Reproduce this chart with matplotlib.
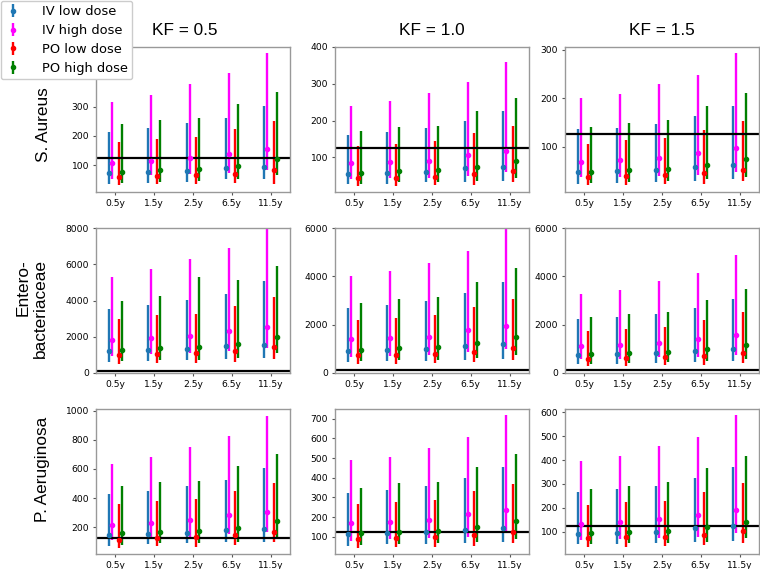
import numpy as np
import matplotlib.pyplot as plt

times = ["0.5y", "1.5y", "2.5y", "6.5y", "11.5y"]
series = ["IV low dose", "IV high dose", "PO low dose", "PO high dose"]
colors = ["#1f77b4", "magenta", "red", "green"]
kf_titles = ["KF = 0.5", "KF = 1.0", "KF = 1.5"]
bugs = ["S. Aureus", "Entero-\nbacteriaceae", "P. Aeruginosa"]
breakpoint = 125

# each list: [IV low, IV high, PO low, PO high] x times
# ---- S. Aureus ----
sa_k05_mid = [[73, 76, 81, 91, 94], [108, 115, 124, 139, 154], [58, 63, 66, 71, 85], [77, 85, 86, 97, 121]]
sa_k05_lo = [[37, 40, 42, 51, 51], [54, 66, 69, 74, 83], [31, 34, 35, 38, 37], [39, 43, 46, 51, 66]]
sa_k05_hi = [[212, 226, 245, 263, 303], [317, 342, 377, 416, 483], [180, 191, 195, 224, 251], [240, 256, 260, 308, 352]]

sa_k10_mid = [[56, 58, 60, 70, 73], [84, 87, 91, 106, 117], [44, 45, 48, 55, 63], [57, 63, 65, 73, 89]]
sa_k10_lo = [[27, 29, 32, 34, 36], [41, 44, 45, 50, 59], [23, 23, 25, 25, 32], [29, 32, 32, 36, 45]]
sa_k10_hi = [[161, 168, 179, 200, 227], [241, 254, 274, 305, 359], [132, 136, 144, 166, 186], [173, 183, 186, 226, 262]]

sa_k15_mid = [[47, 49, 51, 58, 62], [68, 72, 77, 87, 96], [38, 40, 41, 45, 52], [47, 52, 53, 61, 74]]
sa_k15_lo = [[23, 25, 27, 29, 32], [37, 37, 39, 42, 47], [20, 21, 22, 22, 28], [25, 27, 28, 32, 38]]
sa_k15_hi = [[136, 139, 146, 164, 184], [200, 209, 230, 249, 293], [106, 113, 117, 135, 153], [141, 148, 154, 184, 211]]

# ---- Enterobacteriaceae ----
en_k05_mid = [[1235, 1253, 1327, 1511, 1567], [1806, 1917, 2046, 2341, 2544], [977, 1069, 1088, 1198, 1419], [1290, 1400, 1438, 1622, 2009]]
en_k05_lo = [[627, 682, 700, 793, 829], [922, 1050, 1106, 1235, 1382], [516, 553, 535, 608, 774], [645, 719, 737, 830, 1106]]
en_k05_hi = [[3558, 3760, 4055, 4369, 5069], [5309, 5714, 6267, 6912, 8100], [3005, 3189, 3244, 3705, 4184], [4000, 4240, 5309, 5124, 5899]]

en_k10_mid = [[924, 966, 1007, 1103, 1186], [1393, 1448, 1503, 1766, 1945], [731, 759, 800, 869, 1034], [966, 1034, 1062, 1228, 1476]]
en_k10_lo = [[455, 483, 510, 552, 593], [662, 717, 759, 855, 979], [372, 372, 400, 441, 552], [483, 524, 538, 621, 759]]
en_k10_hi = [[2690, 2800, 2966, 3310, 3779], [4028, 4207, 4552, 5034, 5986], [2207, 2276, 2386, 2745, 3076], [2897, 3076, 3145, 3766, 4331]]

en_k15_mid = [[745, 772, 814, 924, 993], [1103, 1159, 1255, 1407, 1559], [593, 621, 648, 703, 814], [772, 828, 855, 979, 1172]]
en_k15_lo = [[372, 386, 414, 455, 510], [579, 593, 648, 676, 759], [276, 303, 331, 345, 414], [372, 414, 441, 483, 593]]
en_k15_hi = [[2234, 2303, 2428, 2690, 3062], [3283, 3448, 3807, 4124, 4883], [1752, 1834, 1903, 2193, 2510], [2317, 2441, 2538, 3021, 3476]]

# ---- P. Aeruginosa ----
pa_k05_mid = [[147, 154, 161, 179, 189], [218, 232, 248, 285, 307], [113, 129, 131, 147, 170], [159, 170, 175, 198, 241]]
pa_k05_lo = [[74, 86, 90, 102, 102], [113, 125, 125, 152, 166], [58, 72, 67, 79, 97], [79, 90, 95, 102, 136]]
pa_k05_hi = [[426, 451, 486, 527, 609], [637, 685, 753, 829, 966], [360, 383, 392, 449, 501], [483, 509, 518, 618, 705]]

pa_k10_mid = [[114, 119, 122, 132, 144], [168, 175, 185, 216, 236], [88, 95, 97, 107, 124], [117, 124, 127, 149, 180]]
pa_k10_lo = [[54, 61, 63, 66, 71], [80, 88, 91, 100, 117], [44, 46, 49, 52, 66], [57, 63, 66, 74, 90]]
pa_k10_hi = [[324, 338, 358, 399, 457], [488, 508, 552, 610, 719], [265, 275, 287, 333, 370], [350, 372, 381, 454, 522]]

pa_k15_mid = [[90, 93, 97, 114, 122], [132, 139, 152, 170, 190], [71, 76, 76, 86, 101], [93, 100, 103, 121, 142]]
pa_k15_lo = [[47, 48, 51, 55, 62], [65, 69, 75, 79, 93], [34, 37, 41, 45, 51], [48, 51, 54, 58, 72]]
pa_k15_hi = [[268, 278, 293, 324, 369], [397, 415, 460, 496, 590], [212, 223, 230, 265, 303], [279, 293, 306, 366, 419]]

panels = [
    [(sa_k05_mid, sa_k05_lo, sa_k05_hi), (sa_k10_mid, sa_k10_lo, sa_k10_hi), (sa_k15_mid, sa_k15_lo, sa_k15_hi)],
    [(en_k05_mid, en_k05_lo, en_k05_hi), (en_k10_mid, en_k10_lo, en_k10_hi), (en_k15_mid, en_k15_lo, en_k15_hi)],
    [(pa_k05_mid, pa_k05_lo, pa_k05_hi), (pa_k10_mid, pa_k10_lo, pa_k10_hi), (pa_k15_mid, pa_k15_lo, pa_k15_hi)],
]
ylims = [
    [(8, 505), (6, 400), (6, 306)],
    [(0, 8000), (0, 6000), (0, 6000)],
    [(17, 1011), (12, 750), (6, 614)],
]
yticks = [
    [[100, 200, 300], [100, 200, 300, 400], [100, 200, 300]],
    [[0, 2000, 4000, 6000, 8000], [0, 2000, 4000, 6000], [0, 2000, 4000, 6000]],
    [[200, 400, 600, 800, 1000], [100, 200, 300, 400, 500, 600, 700], [100, 200, 300, 400, 500, 600]],
]

offsets = [-0.16, -0.08, 0.08, 0.16]
W, H = 760, 569
col_left = [96, 335, 565]
row_top = [47, 228, 409]
ax_w, ax_h = 194, 145
title_font = ["Liberation Sans", "DejaVu Sans"]

fig = plt.figure(figsize=(W / 100, H / 100), dpi=100)
x = np.arange(len(times))

for r in range(3):
    for c in range(3):
        ax = fig.add_axes([col_left[c] / W, 1 - (row_top[r] + ax_h) / H, ax_w / W, ax_h / H])
        mid, lo, hi = [np.array(a, dtype=float) for a in panels[r][c]]
        for s in range(4):
            ax.errorbar(x + offsets[s], mid[s], yerr=[mid[s] - lo[s], hi[s] - mid[s]],
                        fmt='o', color=colors[s], ms=3.0, elinewidth=1.7, capsize=0,
                        label=series[s])
        ax.axhline(breakpoint, color='black', lw=1.6)
        ax.set_xlim(-0.5, 4.5)
        ax.set_ylim(*ylims[r][c])
        ax.set_yticks(yticks[r][c])
        ax.set_xticks(x)
        ax.set_xticklabels(times)
        ax.tick_params(labelsize=6.6, length=2.5, width=0.8, color='#555555', pad=2.5)
        for sp in ax.spines.values():
            sp.set_color('#999999')
            sp.set_linewidth(1.0)
        if r == 0:
            ax.set_title(kf_titles[c], fontsize=12.4, family=title_font, pad=8.5,
                         x=0.456 if c == 0 else 0.5)
        if r == 0 and c == 0:
            handles, labels = ax.get_legend_handles_labels()

label_pos = [(43, 125), (32, 309), (43, 469)]
for (lx, ly), name in zip(label_pos, bugs):
    fig.text(lx / W, 1 - ly / H, name, rotation=90, ha='center', va='center',
             fontsize=12.4, family=title_font, ma='right', linespacing=1.15)

leg = fig.legend(handles, labels, loc='upper left', bbox_to_anchor=(0.0, 1.0),
                 borderaxespad=0.05, fontsize=9.4, handlelength=1.2, handletextpad=1.6,
                 labelspacing=0.45, borderpad=0.35, framealpha=1.0, edgecolor='#cccccc')

fig.savefig("out.png", dpi=100)
